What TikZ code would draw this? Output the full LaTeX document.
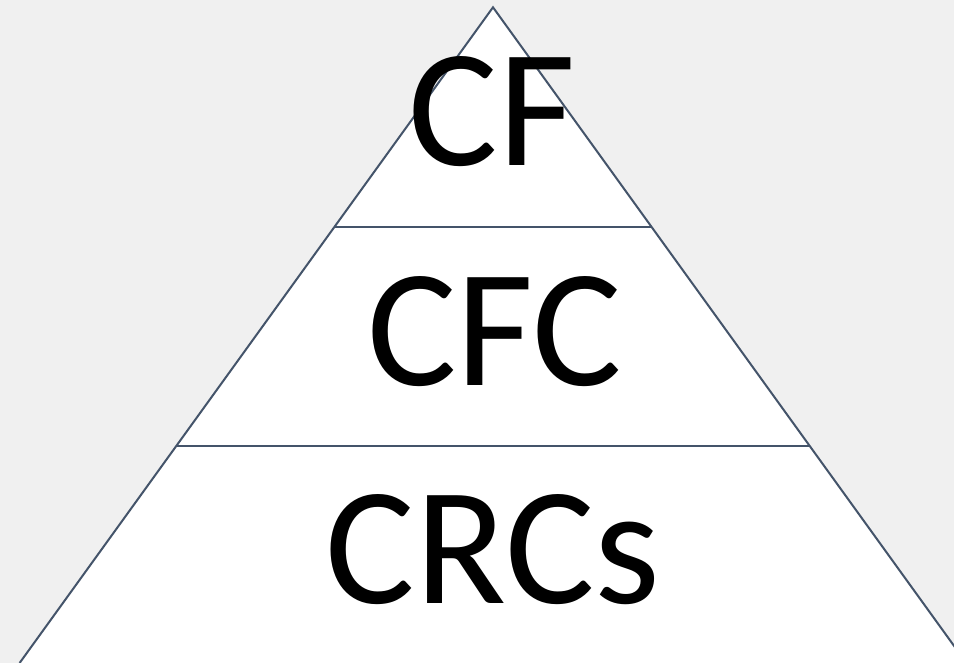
\documentclass[tikz,border=0pt]{standalone}
\usepackage{fontspec}
\setmainfont{Carlito}
\usetikzlibrary{calc}
\definecolor{slate}{HTML}{44546A}
\definecolor{backGray}{HTML}{F0F0F0}
\tikzset{
	layerLine/.style={draw=slate, line width=2pt},
	layerText/.style={anchor=base, inner sep=0pt, font=\fontsize{168}{170}\selectfont}
}
\begin{document}
\begin{tikzpicture}[x=1pt, y=-1pt]
	\clip (0,0) rectangle (954,663);
	\fill[backGray] (0,0) rectangle (954,663);

	% pyramid corners
	\coordinate (apex) at (493,7.3);
	\coordinate (baseLeft) at (19.6,663);
	\coordinate (baseRight) at (966.4,663);
	\filldraw[layerLine, fill=white, line join=miter] (baseLeft) -- (apex) -- (baseRight);

	% layer borders
	\coordinate (layer1Left) at ($(apex)!0.3355!(baseLeft)$);
	\coordinate (layer1Right) at ($(apex)!0.3355!(baseRight)$);
	\coordinate (layer2Left) at ($(apex)!0.6686!(baseLeft)$);
	\coordinate (layer2Right) at ($(apex)!0.6686!(baseRight)$);
	\draw[layerLine] (layer1Left) -- (layer1Right);
	\draw[layerLine] (layer2Left) -- (layer2Right);

	% layer labels
	\node[layerText](cfText) at (492,166){CF};
	\node[layerText](cfcText) at (494.5,385){CFC};
	\node[layerText](crcsText) at (493,603){CRCs};
\end{tikzpicture}
\end{document}
